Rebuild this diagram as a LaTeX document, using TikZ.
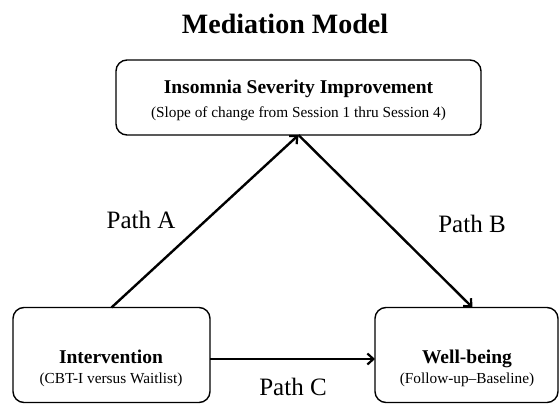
\documentclass[tikz,border=0pt]{standalone}
\usepackage{fontspec}
\setmainfont{Liberation Serif}
\usetikzlibrary{arrows.meta}
\tikzset{
  box/.style={draw=black, line width=1.4pt, rounded corners=11pt, inner sep=0pt, outer sep=0pt},
  conn/.style={line width=2.4pt, -{Straight Barb[length=6pt,width=11pt,line width=2.2pt]}},
  hd/.style={anchor=base, font=\fontsize{19.5}{22}\selectfont\bfseries, inner sep=0pt},
  sub/.style={anchor=base, font=\fontsize{15.3}{17}\selectfont, inner sep=0pt},
  plabel/.style={anchor=base, font=\fontsize{25}{28}\selectfont, inner sep=0pt},
}
\begin{document}
\begin{tikzpicture}[x=1pt, y=-1pt]
\useasboundingbox (0,0) rectangle (560,405);
\node[anchor=base, font=\fontsize{28}{32}\selectfont\bfseries, inner sep=0pt] (title) at (285,33) {Mediation Model};
% boxes
\node[box, minimum width=365pt, minimum height=75pt] (top) at (298.5,97.5) {};
\node[box, minimum width=197pt, minimum height=95pt] (iv) at (111.5,355) {};
\node[box, minimum width=183pt, minimum height=95pt] (wb) at (466.5,355) {};
% texts
\node[hd] (toph) at (298.5,93) {Insomnia Severity Improvement};
\node[sub] (tops) at (298.5,117) {(Slope of change from Session 1 thru Session 4)};
\node[hd] (ivh) at (111,363.5) {Intervention};
\node[sub] (ivs) at (111,383.5) {(CBT-I versus Waitlist)};
\node[hd] (wbh) at (467,363.5) {Well-being};
\node[sub] (wbs) at (467,383.5) {(Follow-up–Baseline)};
% connectors
\draw[conn] (iv.north) -- (top.south);
\draw[conn] (top.south) -- ([xshift=6pt]wb.north);
\draw[conn] ([yshift=-4pt]iv.east) -- ([yshift=-4pt]wb.west);
% path labels
\node[plabel] (pa) at (141,228) {Path A};
\node[plabel] (pb) at (472,232) {Path B};
\node[plabel] (pc) at (293,395) {Path C};
\end{tikzpicture}
\end{document}
